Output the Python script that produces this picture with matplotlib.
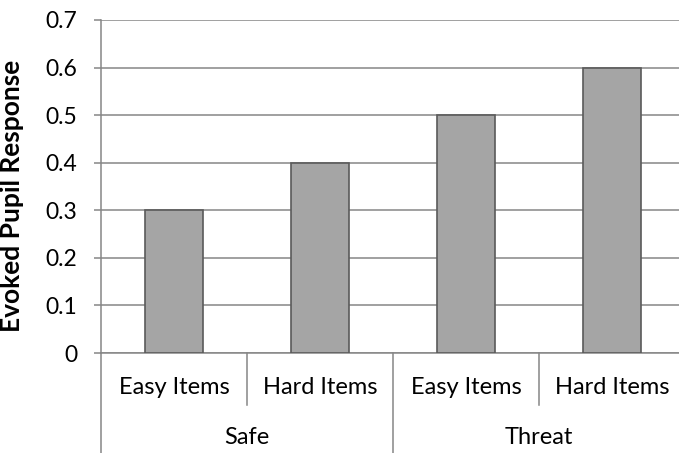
import matplotlib
matplotlib.use("Agg")
import matplotlib.pyplot as plt
from matplotlib.lines import Line2D

conditions = ["Safe", "Threat"]
items = ["Easy Items", "Hard Items", "Easy Items", "Hard Items"]
values = [0.3, 0.4, 0.5, 0.6]
yticks = [0, 0.1, 0.2, 0.3, 0.4, 0.5, 0.6, 0.7]

plt.rcParams["font.family"] = ["Lato", "DejaVu Sans"]
FS = 17

W, H = 679, 453
fig = plt.figure(figsize=(W / 100, H / 100), dpi=100)
left, right, top, bottom = 101, 685, 20, 353
ax = fig.add_axes([left / W, 1 - bottom / H, (right - left) / W, (bottom - top) / H])

grid_col = "#868686"
x = list(range(len(values)))
ax.bar(x, values, width=0.4, color="#a5a5a5", edgecolor="#5a5a5a", linewidth=1.2, zorder=3)

ax.set_xlim(-0.5, len(values) - 0.5)
ax.set_ylim(0, 0.7)
ax.set_yticks(yticks)
ax.set_yticklabels([f"{v:g}" for v in yticks], fontsize=16.5, color="#000000")
ax.yaxis.grid(True, color=grid_col, linewidth=1.1, zorder=0)
ax.set_xticks([])
ax.tick_params(axis="y", length=5, width=1.1, color=grid_col, pad=12)

for s in ["top", "right"]:
    ax.spines[s].set_visible(False)
for s in ["left", "bottom"]:
    ax.spines[s].set_color(grid_col)
    ax.spines[s].set_linewidth(1.1)

fig.text(12 / W, 1 - 196 / H, "Evoked Pupil Response", rotation=90,
         ha="center", va="center", fontsize=19, fontweight="bold")

span = bottom - top
def yfrac(py):
    return -(py - bottom) / span

tr = ax.get_xaxis_transform()
# inner-level labels and separators
for i, lab in enumerate(items):
    ax.text(i, yfrac(387), lab, transform=tr, ha="center", va="center", fontsize=FS)
for i in [0.5, 2.5]:
    ax.add_line(Line2D([i, i], [0, yfrac(405)], transform=tr, color=grid_col, lw=1.1, clip_on=False))
# outer-level labels and separators
for j, cond in enumerate(conditions):
    ax.text(2 * j + 0.5, yfrac(438), cond, transform=tr, ha="center", va="center", fontsize=FS)
for i in [-0.5, 1.5, 3.5]:
    ax.add_line(Line2D([i, i], [0, yfrac(460)], transform=tr, color=grid_col, lw=1.1, clip_on=False))

fig.savefig("out.png", dpi=100)
